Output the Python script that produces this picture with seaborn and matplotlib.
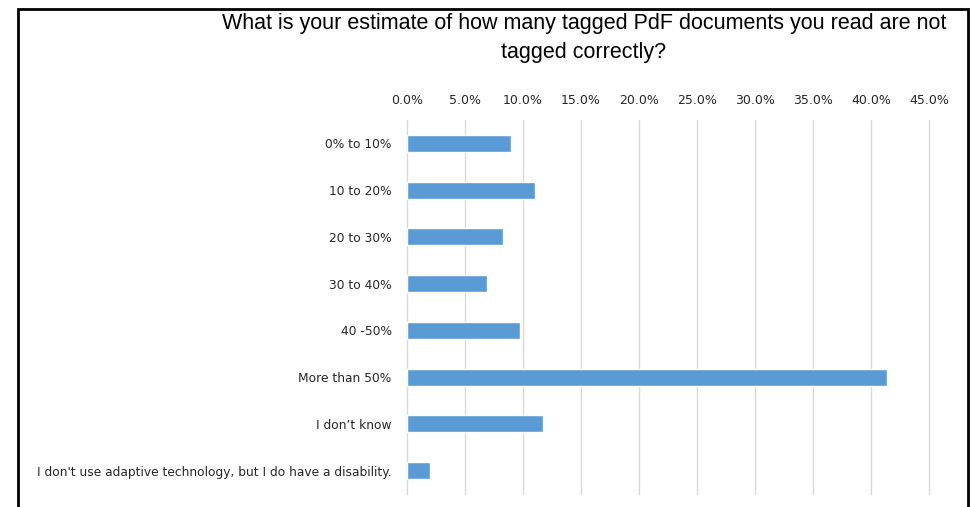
import matplotlib
matplotlib.use("Agg")
import matplotlib.pyplot as plt
from matplotlib.ticker import PercentFormatter
import seaborn as sns
import pandas as pd

categories = [
    "0% to 10%",
    "10 to 20%",
    "20 to 30%",
    "30 to 40%",
    "40 -50%",
    "More than 50%",
    "I don\u2019t know",
    "I don't use adaptive technology, but I do have a disability.",
]
values = [9.0, 11.0, 8.3, 6.9, 9.7, 41.4, 11.7, 2.0]
ticks = [0, 5, 10, 15, 20, 25, 30, 35, 40, 45]

df = pd.DataFrame({"categoria": categories, "valor": values})

sns.set_style("white")
plt.rcParams["font.family"] = ["DejaVu Sans"]

fig = plt.figure(figsize=(9.71, 5.07), dpi=100)
ax = fig.add_axes([407 / 971, 13 / 507, 522 / 971, 374 / 507])

sns.barplot(data=df, x="valor", y="categoria", orient="h", color="#5B9BD5",
            width=0.36, saturation=1, ax=ax, zorder=3)

ax.set_xlim(0, 45)
ax.set_ylim(7.5, -0.5)
ax.set_xticks(ticks)
ax.xaxis.set_major_formatter(PercentFormatter(decimals=1))
ax.xaxis.tick_top()
ax.tick_params(axis="x", length=0, pad=9, labelsize=9, colors="#262626")
ax.tick_params(axis="y", length=0, pad=11, labelsize=8.8, colors="#262626")
ax.grid(axis="x", color="#D9D9D9", linewidth=1, zorder=0)
for gl in ax.get_xgridlines():
    gl.set_clip_on(False)
ax.set_xlabel("")
ax.set_ylabel("")
for s in ax.spines.values():
    s.set_visible(False)

fig.text(584 / 971, 1 - 38 / 507,
         "What is your estimate of how many tagged PdF documents you read are not\ntagged correctly?",
         ha="center", va="center", fontsize=15.5, family="Liberation Sans",
         linespacing=1.5, color="#000000")

# chart frame
frame = plt.Rectangle((18 / 971, -0.05), 950 / 971, 1.05 - 9 / 507,
                      transform=fig.transFigure, fill=False,
                      edgecolor="black", linewidth=2)
fig.add_artist(frame)

fig.savefig("out.png", dpi=100)
